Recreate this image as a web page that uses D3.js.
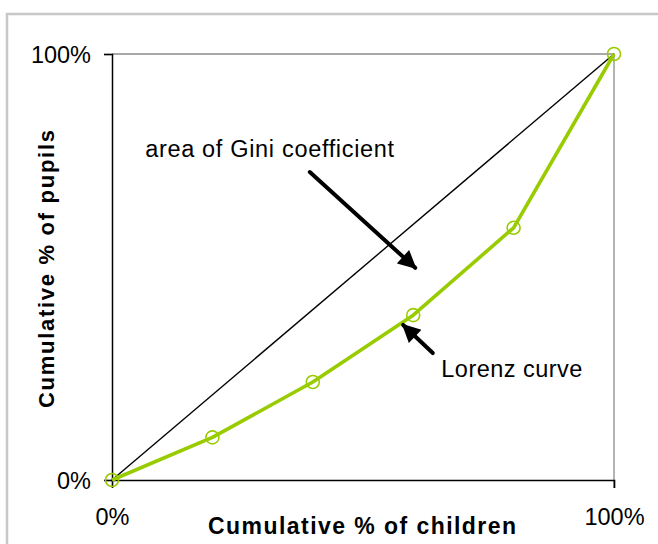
<!DOCTYPE html>
<html>
<head>
<meta charset="utf-8">
<script src="https://cdn.jsdelivr.net/npm/d3@7"></script>
<style>
  html, body { margin: 0; padding: 0; background: #fff; }
  svg { display: block; font-family: "Liberation Sans", Arial, sans-serif; }
</style>
</head>
<body>
<svg id="chart" width="658" height="544"></svg>
<script>
// Lorenz curve: cumulative share of children (x) vs cumulative share of pupils (y)
const childrenPct = [0, 20, 40, 60, 80, 100];
const pupilsPct   = [0, 10, 23, 38.7, 59.2, 100];
const xTicks = [0, 100];
const yTicks = [0, 100];
const xTitle = "Cumulative % of children";
const yTitle = "Cumulative % of pupils";

// callouts, in data units
const giniLabel   = { text: "area of Gini coefficient", x: 6.6, y: 75.8, len: 249 };
const giniArrow   = { from: [39.4, 72.3], to: [60.4, 49.8] };
const lorenzLabel = { text: "Lorenz curve", x: 65.6, y: 24.2, len: 141 };
const lorenzArrow = { from: [63.9, 29.8], to: [58.0, 36.4] };

const svg = d3.select("#chart");
const plot = { left: 112, right: 614, top: 54, bottom: 480 };

const x = d3.scaleLinear().domain([0, 100]).range([plot.left, plot.right]);
const y = d3.scaleLinear().domain([0, 100]).range([plot.bottom, plot.top]);

// outer frame
svg.append("rect")
  .attr("x", 7).attr("y", 14).attr("width", 700).attr("height", 600)
  .attr("fill", "none").attr("stroke", "#c8c8c8").attr("stroke-width", 2.5);

// top and right plot border
svg.append("path")
  .attr("d", `M${plot.left},${plot.top}H${plot.right}V${plot.bottom + 8}`)
  .attr("fill", "none").attr("stroke", "#8c8c8c").attr("stroke-width", 1.3);

// axes
const fmt = d => d + "%";
const xAxis = svg.append("g")
  .attr("transform", `translate(0,${plot.bottom})`)
  .call(d3.axisBottom(x).tickValues(xTicks).tickFormat(fmt).tickSize(8).tickPadding(20));
const yAxis = svg.append("g")
  .attr("transform", `translate(${plot.left},0)`)
  .call(d3.axisLeft(y).tickValues(yTicks).tickFormat(fmt).tickSize(8).tickPadding(13));

[xAxis, yAxis].forEach(g => {
  g.select(".domain").attr("stroke", "#000").attr("stroke-width", 1.5);
  g.selectAll(".tick line").attr("stroke", "#000").attr("stroke-width", 1.2);
  g.selectAll(".tick text")
    .attr("font-family", "Liberation Sans, Arial, sans-serif")
    .attr("font-size", 23.5).attr("fill", "#000");
});
yAxis.selectAll(".tick text").attr("dy", "0.36em");

// line of equality
svg.append("line")
  .attr("x1", x(0)).attr("y1", y(0)).attr("x2", x(100)).attr("y2", y(100))
  .attr("stroke", "#000").attr("stroke-width", 1.4);

// Lorenz curve
const pts = childrenPct.map((c, i) => [c, pupilsPct[i]]);
const green = "#99cc00";
svg.append("path")
  .datum(pts)
  .attr("d", d3.line().x(d => x(d[0])).y(d => y(d[1])))
  .attr("fill", "none").attr("stroke", green).attr("stroke-width", 3.6)
  .attr("stroke-linejoin", "round");

svg.selectAll("circle.pt")
  .data(pts).join("circle").attr("class", "pt")
  .attr("cx", d => x(d[0])).attr("cy", d => y(d[1])).attr("r", 6.5)
  .attr("fill", "none").attr("stroke", green).attr("stroke-width", 1.6);

// arrows
const defs = svg.append("defs");
defs.append("marker")
  .attr("id", "head").attr("viewBox", "0 0 10 10")
  .attr("refX", 9).attr("refY", 5)
  .attr("markerWidth", 5).attr("markerHeight", 4.6)
  .attr("markerUnits", "strokeWidth").attr("orient", "auto")
  .append("path").attr("d", "M0,0L10,5L0,10z").attr("fill", "#000");

[giniArrow, lorenzArrow].forEach(a => {
  svg.append("line")
    .attr("x1", x(a.from[0])).attr("y1", y(a.from[1]))
    .attr("x2", x(a.to[0])).attr("y2", y(a.to[1]))
    .attr("stroke", "#000").attr("stroke-width", 4)
    .attr("stroke-linecap", "round")
    .attr("marker-end", "url(#head)");
});

// callout labels
[giniLabel, lorenzLabel].forEach(l => {
  svg.append("text")
    .attr("x", x(l.x)).attr("y", y(l.y))
    .attr("font-size", 23.5).attr("fill", "#000")
    .attr("textLength", l.len).attr("lengthAdjust", "spacing")
    .text(l.text);
});

// axis titles
svg.append("text")
  .attr("x", 208).attr("y", 534)
  .attr("font-size", 23).attr("font-weight", "bold")
  .attr("textLength", 308).attr("lengthAdjust", "spacing")
  .text(xTitle);
svg.append("text")
  .attr("transform", `translate(54,408) rotate(-90)`)
  .attr("font-size", 22).attr("font-weight", "bold")
  .attr("textLength", 278).attr("lengthAdjust", "spacing")
  .text(yTitle);
</script>
</body>
</html>
